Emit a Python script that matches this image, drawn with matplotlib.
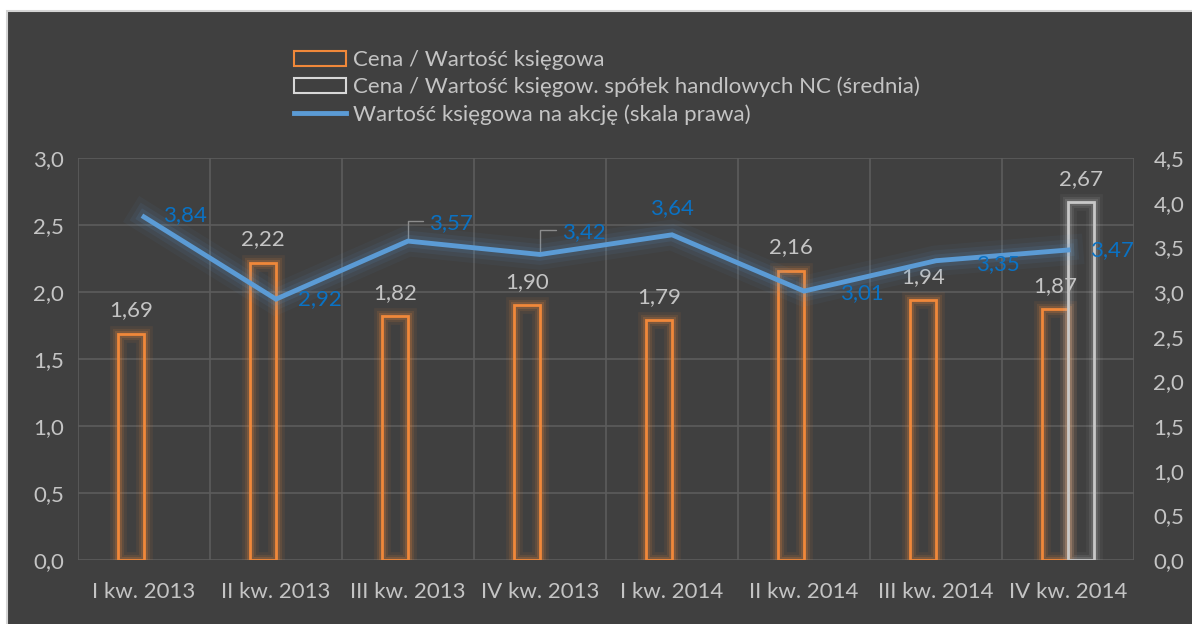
import numpy as np
import matplotlib
matplotlib.use('Agg')
import matplotlib.pyplot as plt
import matplotlib.patheffects as pe
from matplotlib.patches import Rectangle
from matplotlib.lines import Line2D

plt.rcParams['font.family'] = ['Lato', 'DejaVu Sans']

quarters = ['I kw. 2013', 'II kw. 2013', 'III kw. 2013', 'IV kw. 2013',
            'I kw. 2014', 'II kw. 2014', 'III kw. 2014', 'IV kw. 2014']
pbv = [1.69, 2.22, 1.82, 1.90, 1.79, 2.16, 1.94, 1.87]
pbv_nc = [np.nan, np.nan, np.nan, np.nan, np.nan, np.nan, np.nan, 2.67]
bvps = [3.84, 2.92, 3.57, 3.42, 3.64, 3.01, 3.35, 3.47]

left_ticks = [0.0, 0.5, 1.0, 1.5, 2.0, 2.5, 3.0]
right_ticks = [0.0, 0.5, 1.0, 1.5, 2.0, 2.5, 3.0, 3.5, 4.0, 4.5]

bg = '#404040'
orange = '#f0883a'
grey_bar = '#c8c8c8'
blue = '#5b9bd5'
blue_lbl = '#0a72c4'
txt = '#c4c4c4'
grid = '#5c5c5c'
fs = 16

def fmt(v, n):
    return f'{v:.{n}f}'.replace('.', ',')

fig = plt.figure(figsize=(11.92, 6.24), dpi=100, facecolor='white')
fig.patches.append(Rectangle((7 / 1192, -0.01), 1.0, 1 - 11 / 624 + 0.01,
                             transform=fig.transFigure, facecolor=bg,
                             edgecolor='#d4d4d4', linewidth=1.5, zorder=0))

ax = fig.add_axes([78 / 1192, 64 / 624, 1056 / 1192, 402 / 624])
ax.set_facecolor('none')
ax2 = ax.twinx()
ax.set_zorder(1)
ax2.set_zorder(2)

x = np.arange(len(quarters))
w = 0.2

glow_o = [pe.Stroke(linewidth=12, foreground=orange, alpha=0.08),
          pe.Stroke(linewidth=8, foreground=orange, alpha=0.12),
          pe.Stroke(linewidth=5, foreground=orange, alpha=0.2),
          pe.Normal()]
glow_g = [pe.Stroke(linewidth=12, foreground=grey_bar, alpha=0.06),
          pe.Stroke(linewidth=8, foreground=grey_bar, alpha=0.1),
          pe.Stroke(linewidth=5, foreground=grey_bar, alpha=0.15),
          pe.Normal()]

bars = ax.bar(x - w / 2, pbv, width=w, facecolor='none', edgecolor=orange,
              linewidth=2, zorder=3)
for b in bars:
    b.set_path_effects(glow_o)
nc_x = [xi + w / 2 for xi, v in zip(x, pbv_nc) if not np.isnan(v)]
nc_v = [v for v in pbv_nc if not np.isnan(v)]
bars2 = ax.bar(nc_x, nc_v, width=w, facecolor='none', edgecolor=grey_bar,
               linewidth=2, zorder=3)
for b in bars2:
    b.set_path_effects(glow_g)

for xi, v in zip(x - w / 2, pbv):
    ax.annotate(fmt(v, 2), (xi, v), xytext=(0, 23), textcoords='offset pixels',
                ha='center', va='center', color=txt, fontsize=fs)
for xi, v in zip(nc_x, nc_v):
    ax.annotate(fmt(v, 2), (xi, v), xytext=(0, 23), textcoords='offset pixels',
                ha='center', va='center', color=txt, fontsize=fs)

ax.set_xlim(-0.5, len(quarters) - 0.5)
ax.set_ylim(0, 3.0)
ax.set_yticks(left_ticks)
ax.set_yticklabels([fmt(t, 1) for t in left_ticks])
ax.set_xticks(x)
ax.set_xticklabels(quarters)
ax.set_xticks(np.arange(-0.5, len(quarters), 1.0), minor=True)
ax.grid(True, which='minor', axis='x', color=grid, linewidth=1.2)
ax.grid(True, which='major', axis='y', color=grid, linewidth=1.2)
ax.tick_params(axis='both', which='both', length=0, colors=txt, labelsize=fs)
ax.tick_params(axis='x', pad=16)
ax.tick_params(axis='y', pad=10)
for s in ax.spines.values():
    s.set_visible(False)

line_glow = [pe.Stroke(linewidth=22, foreground=blue, alpha=0.05),
             pe.Stroke(linewidth=15, foreground=blue, alpha=0.08),
             pe.Stroke(linewidth=9, foreground=blue, alpha=0.12),
             pe.Normal()]
ax2.plot(x, bvps, color=blue, linewidth=3.5, solid_joinstyle='miter',
         path_effects=line_glow, zorder=4)
ax2.set_ylim(0, 4.5)
ax2.set_yticks(right_ticks)
ax2.set_yticklabels([fmt(t, 1) for t in right_ticks])
ax2.tick_params(axis='y', length=0, colors=txt, labelsize=fs, pad=14)
for s in ax2.spines.values():
    s.set_visible(False)

# label offsets (pixels) for the line values
offs = [(19, 2, 'left'), (22, 0, 'left'), (21, 18, 'left'), (22, 22, 'left'),
        (0, 27, 'center'), (36, -2, 'left'), (40, -3, 'left'), (22, 0, 'left')]
leaders = [False, False, True, True, False, False, False, False]
for xi, v, (dx, dy, ha), ld in zip(x, bvps, offs, leaders):
    ax2.annotate(fmt(v, 2), (xi, v), xytext=(dx, dy), textcoords='offset pixels',
                 ha=ha, va='center', color=blue_lbl, fontsize=fs, zorder=5)
    if ld:
        ax2.annotate('', (xi, v), xytext=(dx - 6, dy + 2), textcoords='offset pixels',
                     arrowprops=dict(arrowstyle='-', color='#8c8c8c', lw=1,
                                     connectionstyle='angle,angleA=0,angleB=90,rad=0',
                                     shrinkA=0, shrinkB=2))

handles = [Rectangle((0, 0), 1, 1, facecolor='none', edgecolor=orange, linewidth=1.5),
           Rectangle((0, 0), 1, 1, facecolor='none', edgecolor='#d8d8d8', linewidth=1.5),
           Line2D([], [], color=blue, linewidth=3.5)]
labels = ['Cena / Wartość księgowa',
          'Cena / Wartość księgow. spółek handlowych NC (średnia)',
          'Wartość księgowa na akcję (skala prawa)']
fig.legend(handles, labels, loc='upper left', bbox_to_anchor=(283 / 1192, 1 - 39 / 624),
           frameon=False, fontsize=fs, labelcolor=txt, handlelength=2.35,
           handleheight=0.65, handletextpad=0.3, labelspacing=0.3, borderpad=0)

fig.savefig('out.png', dpi=100, facecolor='white')
